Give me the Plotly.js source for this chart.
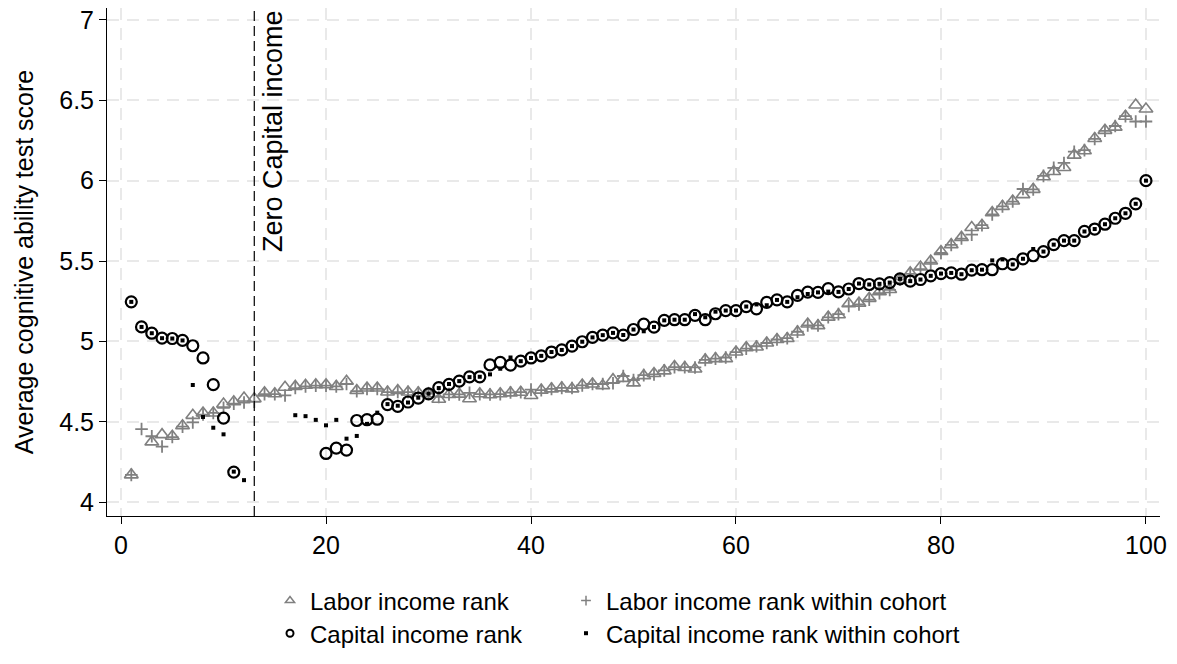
<!DOCTYPE html>
<html><head><meta charset="utf-8">
<script src="https://cdn.plot.ly/plotly-3.0.1.min.js"></script>
<style>html,body{margin:0;padding:0;background:#fff}#chart{width:1177px;height:664px}</style>
</head><body><div id="chart"></div>
<script>
const ranks = [1,2,3,4,5,6,7,8,9,10,11,12,13,14,15,16,17,18,19,20,21,22,23,24,25,26,27,28,29,30,31,32,33,34,35,36,37,38,39,40,41,42,43,44,45,46,47,48,49,50,51,52,53,54,55,56,57,58,59,60,61,62,63,64,65,66,67,68,69,70,71,72,73,74,75,76,77,78,79,80,81,82,83,84,85,86,87,88,89,90,91,92,93,94,95,96,97,98,99,100];

const laborRank = [4.17, null, 4.375, 4.42, 4.41, 4.475, 4.54, 4.555, 4.555, 4.61,
 4.625, 4.648, 4.643, 4.68, 4.674, 4.715, 4.72, 4.727, 4.73, 4.73,
 4.72, 4.752, 4.695, 4.71, 4.71, 4.685, 4.695, 4.685, 4.68, 4.674,
 4.64, 4.67, 4.672, 4.643, 4.674, 4.668, 4.674, 4.68, 4.684, 4.664,
 4.697, 4.705, 4.711, 4.705, 4.729, 4.735, 4.725, 4.762, 4.77, 4.742,
 4.787, 4.8, 4.817, 4.844, 4.838, 4.828, 4.885, 4.893, 4.893, 4.934,
 4.961, 4.965, 4.99, 5.012, 5.018, 5.059, 5.108, 5.098, 5.151, 5.166,
 5.234, 5.238, 5.268, 5.309, 5.323, 5.385, 5.426, 5.463, 5.5, 5.559,
 5.602, 5.647, 5.709, 5.723, 5.801, 5.84, 5.873, 5.913, 5.946, 6.024,
 6.057, 6.082, 6.159, 6.186, 6.262, 6.313, 6.333, 6.401, 6.471, 6.446];

const laborCohort = [4.17, 4.455, 4.41, 4.346, 4.405, 4.47, 4.496, 4.545, 4.555, 4.587,
 4.613, 4.62, 4.625, 4.672, 4.672, 4.664, 4.71, 4.72, 4.725, 4.725,
 4.72, 4.735, 4.69, 4.705, 4.705, 4.685, 4.685, 4.685, 4.68, 4.676,
 4.655, 4.67, 4.67, 4.68, 4.672, 4.67, 4.672, 4.682, 4.684, 4.7,
 4.697, 4.705, 4.711, 4.71, 4.726, 4.735, 4.735, 4.74, 4.785, 4.76,
 4.79, 4.795, 4.82, 4.84, 4.84, 4.838, 4.885, 4.893, 4.9, 4.934,
 4.955, 4.97, 4.99, 5.012, 5.02, 5.06, 5.1, 5.1, 5.15, 5.17,
 5.22, 5.23, 5.26, 5.3, 5.32, 5.385, 5.42, 5.45, 5.49, 5.55,
 5.6, 5.64, 5.664, 5.723, 5.79, 5.84, 5.87, 5.948, 5.946, 6.03,
 6.08, 6.11, 6.18, 6.19, 6.26, 6.31, 6.34, 6.401, 6.368, 6.368];

const capitalRank = [5.246, 5.09, 5.051, 5.02, 5.018, 5.006, 4.973, 4.897, 4.731, 4.523,
 4.187, null, null, null, null, null, null, null, null, 4.303,
 4.336, 4.324, 4.508, 4.513, 4.516, 4.607, 4.596, 4.623, 4.647, 4.674,
 4.713, 4.733, 4.753, 4.779, 4.78, 4.854, 4.869, 4.853, 4.877, 4.897,
 4.91, 4.934, 4.947, 4.971, 4.998, 5.025, 5.039, 5.053, 5.039, 5.074,
 5.108, 5.089, 5.131, 5.135, 5.135, 5.162, 5.135, 5.172, 5.192, 5.192,
 5.217, 5.203, 5.243, 5.258, 5.246, 5.286, 5.307, 5.305, 5.328, 5.308,
 5.326, 5.36, 5.354, 5.358, 5.366, 5.389, 5.375, 5.385, 5.408, 5.422,
 5.426, 5.418, 5.443, 5.446, 5.446, 5.483, 5.479, 5.514, 5.533, 5.559,
 5.602, 5.627, 5.627, 5.684, 5.699, 5.729, 5.766, 5.797, 5.856, 6.0];

const capitalCohort = [5.246, 5.09, 5.051, 5.02, 5.018, 5.006, 4.729, 4.53, 4.463, 4.422,
 4.19, 4.137, null, null, null, null, 4.541, 4.535, 4.512, 4.478,
 4.512, 4.395, 4.412, 4.487, 4.557, 4.61, 4.6, 4.62, 4.65, 4.675,
 4.71, 4.735, 4.753, 4.778, 4.78, 4.795, 4.83, 4.9, 4.877, 4.897,
 4.91, 4.934, 4.947, 4.971, 4.998, 5.025, 5.039, 5.053, 5.04, 5.074,
 5.063, 5.09, 5.131, 5.135, 5.135, 5.17, 5.15, 5.185, 5.192, 5.192,
 5.217, 5.23, 5.225, 5.258, 5.246, 5.275, 5.295, 5.305, 5.31, 5.308,
 5.326, 5.36, 5.354, 5.358, 5.366, 5.389, 5.375, 5.385, 5.408, 5.422,
 5.426, 5.418, 5.443, 5.446, 5.504, 5.51, 5.479, 5.514, 5.575, 5.559,
 5.602, 5.627, 5.627, 5.684, 5.699, 5.729, 5.766, 5.797, 5.856, 6.0];

const seriesNames = ["Labor income rank", "Labor income rank within cohort", "Capital income rank", "Capital income rank within cohort"];
const xTicks = [0, 20, 40, 60, 80, 100];
const yTicks = [4, 4.5, 5, 5.5, 6, 6.5, 7];
const yTickText = ["4", "4.5", "5", "5.5", "6", "6.5", "7"];
const zeroCapitalRank = 13;
const zeroLabel = "Zero Capital income";
const yTitle = "Average cognitive ability test score";

const GRAY = "#808080";
const FONT = "Liberation Sans, Arial, sans-serif";

const styles = [
  {symbol: "triangle-up-open", size: 12, color: GRAY, line: {color: GRAY, width: 1.6}},
  {symbol: "cross-thin-open", size: 9, color: GRAY, line: {color: GRAY, width: 1.8}},
  {symbol: "circle-open", size: 11, color: "#000", line: {color: "#000", width: 2.2}},
  {symbol: "square", size: 4, color: "#000", line: {width: 0}}
];
const legendStyles = [
  {symbol: "triangle-up-open", size: 8, color: GRAY, line: {color: GRAY, width: 1.5}},
  {symbol: "cross-thin-open", size: 7, color: GRAY, line: {color: GRAY, width: 1.5}},
  {symbol: "circle-open", size: 7, color: "#000", line: {color: "#000", width: 2}},
  {symbol: "square", size: 4, color: "#000", line: {width: 0}}
];
const values = [laborRank, laborCohort, capitalRank, capitalCohort];
const legendIds = ["legend", "legend2", "legend3", "legend4"];

const traces = [];
values.forEach((v, i) => {
  traces.push({type: "scatter", mode: "markers", x: ranks, y: v, name: seriesNames[i],
    marker: styles[i], showlegend: false, cliponaxis: false, hoverinfo: "x+y"});
});
values.forEach((v, i) => {
  traces.push({type: "scatter", mode: "markers", x: [null], y: [null], name: seriesNames[i],
    marker: legendStyles[i], showlegend: true, legend: legendIds[i]});
});

const gridStyle = {gridcolor: "#e9e9e9", gridwidth: 2, griddash: "12px,8px"};

function leg(xpx, ypx) {
  return {orientation: "h", x: (xpx - 107) / 1053, xanchor: "left", y: -(ypx - 522) / 514, yanchor: "middle",
    font: {size: 24}, bgcolor: "rgba(0,0,0,0)", itemsizing: "trace"};
}

const layout = {
  width: 1177, height: 664,
  margin: {l: 107, r: 17, t: 8, b: 142},
  paper_bgcolor: "#fff", plot_bgcolor: "#fff",
  font: {family: FONT, size: 25, color: "#000"},
  showlegend: true,
  xaxis: Object.assign({
    range: [-1.37, 101.37], tickvals: xTicks, ticktext: xTicks.map(String),
    showline: true, linecolor: "#000", linewidth: 1, mirror: false,
    ticks: "outside", ticklen: 7, tickcolor: "#000", tickwidth: 1,
    zeroline: false, showgrid: true, tickfont: {size: 25}
  }, gridStyle),
  yaxis: Object.assign({
    range: [3.914, 7.074], tickvals: yTicks, ticktext: yTickText,
    showline: true, linecolor: "#000", linewidth: 1, mirror: false,
    ticks: "outside", ticklen: 7, tickcolor: "#000", tickwidth: 1,
    zeroline: false, showgrid: true, tickfont: {size: 25},
    title: {text: yTitle, font: {size: 25}, standoff: 18}
  }, gridStyle),
  shapes: [{type: "line", xref: "x", yref: "paper", x0: zeroCapitalRank, x1: zeroCapitalRank,
    y0: 0, y1: 1, line: {color: "#000", width: 1.2, dash: "10px,5px"}}],
  annotations: [{xref: "x", yref: "y", x: 14.85, y: 6.31, text: zeroLabel, textangle: -90,
    showarrow: false, xanchor: "center", yanchor: "middle", font: {size: 27, color: "#000"}}],
  legend: leg(270, 608),
  legend2: leg(566, 608),
  legend3: leg(270, 641),
  legend4: leg(566, 641)
};

Plotly.newPlot("chart", traces, layout, {displayModeBar: false, staticPlot: true});
</script></body></html>
